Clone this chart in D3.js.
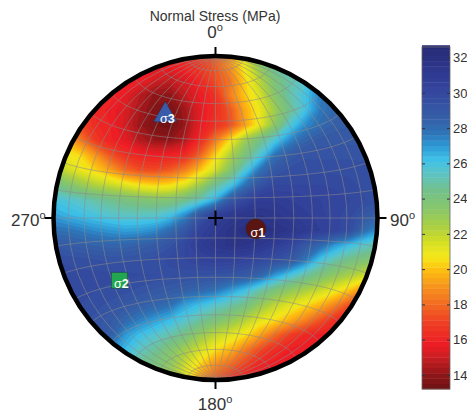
<!DOCTYPE html>
<html lang="en">
<head>
<meta charset="UTF-8">
<title>Normal Stress</title>
<script src="https://d3js.org/d3.v7.min.js"></script>
<style>
    html, body { margin: 0; padding: 0; background: #fff; }
    svg { display: block; font-family: "Liberation Sans", Arial, sans-serif; }
    text { fill: #333; }
    .sigma { fill: #fff; font-size: 12.5px; text-anchor: middle; }
</style>
</head>
<body>
<svg id="chart" width="467" height="411"></svg>
<script>
// normal stress in MPa, one row per line of the sampling grid, top to bottom
const row00 = [17,17,16.5,16.5,16,16,16,16,16,16.5,17,17.5,19,21,23,25,26,27,28,28,28,28,28];
const row01 = [17,17,16.8,16.5,16.3,16.2,16,15.8,15.8,16.2,16.8,17.6,19,21,23.3,25,25.7,26.5,27.5,28,28,28,28];
const row02 = [17.5,17.3,17,16.5,16.2,16,15.8,15.2,14.9,15.3,16.2,17.3,18.3,20.3,22.2,24,25,25.6,27.5,28,28.3,28.3,28.3];
const row03 = [18,17.5,17,16.6,16.1,15.6,14.7,14,14,14.9,15.7,16.5,18.5,20.1,21.5,23.5,25,26,27.5,28.2,28.5,28.5,28.5];
const row04 = [18.5,18,17.2,16.1,15.8,15.3,14.4,13.7,13.5,14.3,15.5,16.3,17.5,19.5,21,22.8,24.5,26,27.6,28.3,28.6,28.7,28.7];
const row05 = [19,18.5,17.2,16.3,15.9,15.2,14.2,13.5,13.3,14.2,15.6,16.5,17.3,19.3,21,23.3,25.7,27.2,28,28.6,28.8,28.8,28.8];
const row06 = [20,19.5,18.4,16.8,16,15.5,14.6,14.1,14,14.6,16.3,18.3,20.5,22.7,24.3,25.8,27.3,28.3,28.9,29,29,29,29];
const row07 = [21.5,21,20.4,19,17.5,16.5,16,15.8,15.9,16.3,17.8,20.2,22.3,24,25.7,27.8,28.8,29.3,29.3,29.3,29.3,29.3,29.3];
const row08 = [23,21.8,21,20.3,19.3,18,17.3,17.2,17.6,18.5,20,21.5,23.5,25.7,27.8,29,29.5,29.6,29.6,29.6,29.6,29.5,29.5];
const row09 = [24.5,23.8,23,22.3,21.8,21.2,20.6,20.3,20.5,21.3,22.7,24.6,25.8,27.8,29.2,30,30,30,30,29.9,29.8,29.6,29.5];
const row10 = [26,25.8,25.4,24.9,24.5,24.1,23.8,23.6,23.7,24.4,25.3,26.6,28.8,30,30.8,30.8,30.6,30.4,30.3,30.2,30,29.7,29.5];
const row11 = [27,26.5,26.2,25.9,25.6,25.4,25.4,25.5,26,27.2,29,30.4,31,31.4,31.5,31.3,31,30.7,30.4,30.1,29.8,29,28.5];
const row12 = [27.8,27.8,27.5,27.2,27,26.8,26.9,27.2,28,29,30.3,31,31.6,32,32,31.8,31.4,31,30.6,30.2,29.6,28,27];
const row13 = [29,28.8,28.6,28.4,28.3,28.3,28.5,28.8,29.3,30,30.8,31.3,31.6,31.5,31.2,30.7,30.1,29,28.2,27,26.2,25.5,25];
const row14 = [29.8,29.6,29.5,29.4,29.3,29.3,29.4,29.5,29.8,30,30.3,30.5,30.4,30.2,29.9,29.5,29,27.7,26,25,24.3,23.8,23.5];
const row15 = [30,29.9,29.8,29.8,29.8,29.8,29.7,29.7,29.6,29.5,29.4,29.3,29.2,28.9,28.3,27,25.9,24.9,24,23.2,22.5,21.7,21];
const row16 = [30,29.9,29.8,29.7,29.6,29.5,29.3,29,28.8,28.5,28.2,27.8,27,26.2,25,24,23.2,22.5,21.8,21,20,18.5,18];
const row17 = [30,29.8,29.7,29.5,29.3,29,28.6,28.3,27.9,26.8,26.2,25.6,25,24.3,23,22,21.2,20.5,19.7,18.6,17.3,16.5,16];
const row18 = [30,29.8,29.5,29.3,28.9,28.2,27.5,26.9,26.3,25.6,24.8,24,23.2,22.3,21.2,20.5,19.6,18.6,17.5,16.4,16,16,16];
const row19 = [30,29.8,29.5,29.2,28.6,27,26.2,25.6,25,24.2,23,22,21.3,20.5,19.3,18,16.9,16.2,15.8,15.8,15.8,15.8,15.8];
const row20 = [30,29.7,29.3,28.5,27.5,26.3,25.4,24.7,23.7,22.6,21.5,20.5,19.7,18.4,17.2,16.3,15.8,15.6,15.6,15.6,15.6,15.6,15.6];
const row21 = [30,29.5,29,28,26.5,25.5,24.5,24,23.2,21.7,20.2,18.8,18,17,16,15.7,15.6,15.6,15.6,15.6,15.6,15.6,15.6];
const row22 = [30,29.5,28.8,27.5,26,25,24,23.5,22.8,21,19,17.5,16.5,15.8,15.6,15.6,15.6,15.6,15.6,15.6,15.6,15.6,15.6];
const stressRows = [row00,row01,row02,row03,row04,row05,row06,row07,row08,row09,row10,row11,
    row12,row13,row14,row15,row16,row17,row18,row19,row20,row21,row22];

// colour bar
const stressMin = 13.2;
const stressMax = 32.6;
const stressStep = 0.3;
const barTicks = [14,16,18,20,22,24,26,28,30,32];
const colorStops = [13.2,14,15,15.7,17,18,19,20,20.7,21.5,22.5,23.5,24.5,25.5,26.2,27,27.7,28.5,30,31,32.6];
const colorValues = ["#6e1214","#8e1518","#c81e22","#ec1c24","#ee3f24","#f26a21","#f7941e","#fdc010","#f4e91a",
    "#d7df23","#a8cf45","#86c66c","#73c08c","#5cc5c8","#3ec1e8","#2f9ad6","#2e75b8","#3560a8","#34479e","#2f3a92","#262a76"];

// principal stresses
const sigmaNames = ["1","2","3"];
const sigmaTrends = [105,237,334];
const sigmaPlunges = [69,30,30];

// compass labels
const compassAngles = [0,90,180,270];

const svg = d3.select("#chart");
const cx = 215.5, cy = 218, radius = 162;

// grid of values -> pixels
const xGrid = d3.scaleLinear().domain([0, row00.length - 1]).range([50, 380]);
const yGrid = d3.scaleLinear().domain([0, stressRows.length - 1]).range([50, 380]);
const color = d3.scaleLinear().domain(colorStops).range(colorValues);

const projection = d3.geoAzimuthalEqualArea()
    .scale(radius / Math.SQRT2)
    .translate([cx, cy])
    .clipAngle(90)
    .precision(0.3);
const netPath = d3.geoPath(projection);

svg.append("clipPath").attr("id", "net")
    .append("circle").attr("cx", cx).attr("cy", cy).attr("r", radius);

const thresholds = d3.range(stressMin, stressMax, stressStep);
const contours = d3.contours()
    .size([row00.length, stressRows.length])
    .thresholds(thresholds)(stressRows.flat());
const gridPath = d3.geoPath(d3.geoTransform({
    point: function (x, y) { this.stream.point(xGrid(x - 0.5), yGrid(y - 0.5)); }
}));

const net = svg.append("g").attr("clip-path", "url(#net)");
net.selectAll("path.band")
    .data(contours)
    .enter()
    .append("path")
    .attr("class", "band")
    .attr("d", gridPath)
    .attr("fill", d => color(d.value + stressStep / 2))
    .attr("stroke", d => color(d.value + stressStep / 2))
    .attr("stroke-width", 0.3);

const graticule = d3.geoGraticule().extent([[-180, -90], [180, 90.01]]).step([10, 10]).precision(2);
net.append("path")
    .datum(graticule())
    .attr("d", netPath)
    .attr("fill", "none")
    .attr("stroke", "#8c8c8c")
    .attr("stroke-opacity", 0.7)
    .attr("stroke-width", 0.8);

// outer ring and compass ticks
svg.append("circle")
    .attr("cx", cx).attr("cy", cy).attr("r", radius)
    .attr("fill", "none").attr("stroke", "#000").attr("stroke-width", 4.5);

const compass = svg.append("g").selectAll("g").data(compassAngles).enter().append("g")
    .attr("transform", d => `translate(${cx},${cy}) rotate(${d})`);
compass.append("line")
    .attr("y1", -radius).attr("y2", -radius - 9)
    .attr("stroke", "#000").attr("stroke-width", 2);

function degreeLabel(x, y, label, anchor) {
    const t = svg.append("text").attr("x", x).attr("y", y)
        .attr("text-anchor", anchor).style("font-size", "17px");
    t.append("tspan").text(label);
    t.append("tspan").text("o").attr("dy", -7).style("font-size", "11px");
}
degreeLabel(215, 38, "0", "middle");
degreeLabel(390, 226, "90", "start");
degreeLabel(215, 410, "180", "middle");
degreeLabel(11, 226, "270", "start");

svg.append("text")
    .attr("x", 215).attr("y", 21)
    .attr("text-anchor", "middle")
    .style("font-size", "14px")
    .text("Normal Stress (MPa)");

// centre cross
svg.append("path")
    .attr("d", d3.line()([[cx - 7.5, cy], [cx + 7.5, cy]]) + d3.line()([[cx, cy - 7.5], [cx, cy + 7.5]]))
    .attr("stroke", "#000").attr("stroke-width", 2);

// lower hemisphere trend/plunge -> lon/lat on the net
const sigmaPoint = i => {
    const t = sigmaTrends[i] * Math.PI / 180, c = (90 - sigmaPlunges[i]) * Math.PI / 180;
    const e = Math.sin(c) * Math.sin(t), n = Math.sin(c) * Math.cos(t), d = Math.cos(c);
    return projection([Math.atan2(e, d) * 180 / Math.PI, Math.asin(n) * 180 / Math.PI]);
};

const symbols = [d3.symbolCircle, d3.symbolSquare, d3.symbolTriangle];
const symbolSizes = [320, 256, 240];
const symbolFills = ["#5a1512", "#22a64f", "#3a5ba9"];
const sigmas = svg.append("g").selectAll("g").data(sigmaNames).enter().append("g")
    .attr("transform", (d, i) => {
        const p = sigmaPoint(i);
        return `translate(${p[0]},${p[1]})`;
    });
sigmas.append("path")
    .attr("d", (d, i) => d3.symbol().type(symbols[i]).size(symbolSizes[i])())
    .attr("fill", (d, i) => symbolFills[i])
    .attr("stroke", "#1c2a3a")
    .attr("stroke-opacity", 0.6)
    .attr("stroke-width", 0.7);
const sigmaLabels = sigmas.append("text").attr("class", "sigma")
    .attr("x", 2).attr("y", 8);
sigmaLabels.append("tspan").style("fill", "#fff").text("\u03c3");
sigmaLabels.append("tspan").style("fill", "#fff").style("font-weight", "bold").text(d => d);

// colour bar
const barY = d3.scaleLinear().domain([stressMin, stressMax]).range([389, 47]);
const bar = svg.append("g");
bar.selectAll("rect")
    .data(thresholds)
    .enter()
    .append("rect")
    .attr("x", 422)
    .attr("width", 28)
    .attr("y", d => barY(d + stressStep))
    .attr("height", d => barY(d) - barY(d + stressStep) + 0.4)
    .attr("fill", d => color(d + stressStep / 2));
bar.append("rect")
    .attr("x", 422).attr("y", 47).attr("width", 28).attr("height", 342)
    .attr("fill", "none").attr("stroke", "#666").attr("stroke-width", 0.8);

const axisRight = svg.append("g").attr("transform", "translate(450,0)")
    .call(d3.axisRight(barY).tickValues(barTicks).tickSizeInner(-3).tickSizeOuter(0).tickPadding(3));
const axisLeft = svg.append("g").attr("transform", "translate(422,0)")
    .call(d3.axisLeft(barY).tickValues(barTicks).tickSizeInner(-3).tickSizeOuter(0).tickFormat(""));
axisRight.select(".domain").remove();
axisLeft.select(".domain").remove();
axisRight.selectAll("line").attr("stroke", "#334");
axisLeft.selectAll("line").attr("stroke", "#334");
axisRight.selectAll("text").style("font-size", "13px")
    .style("font-family", "'Liberation Sans', Arial, sans-serif").style("fill", "#333");
</script>
</body>
</html>
